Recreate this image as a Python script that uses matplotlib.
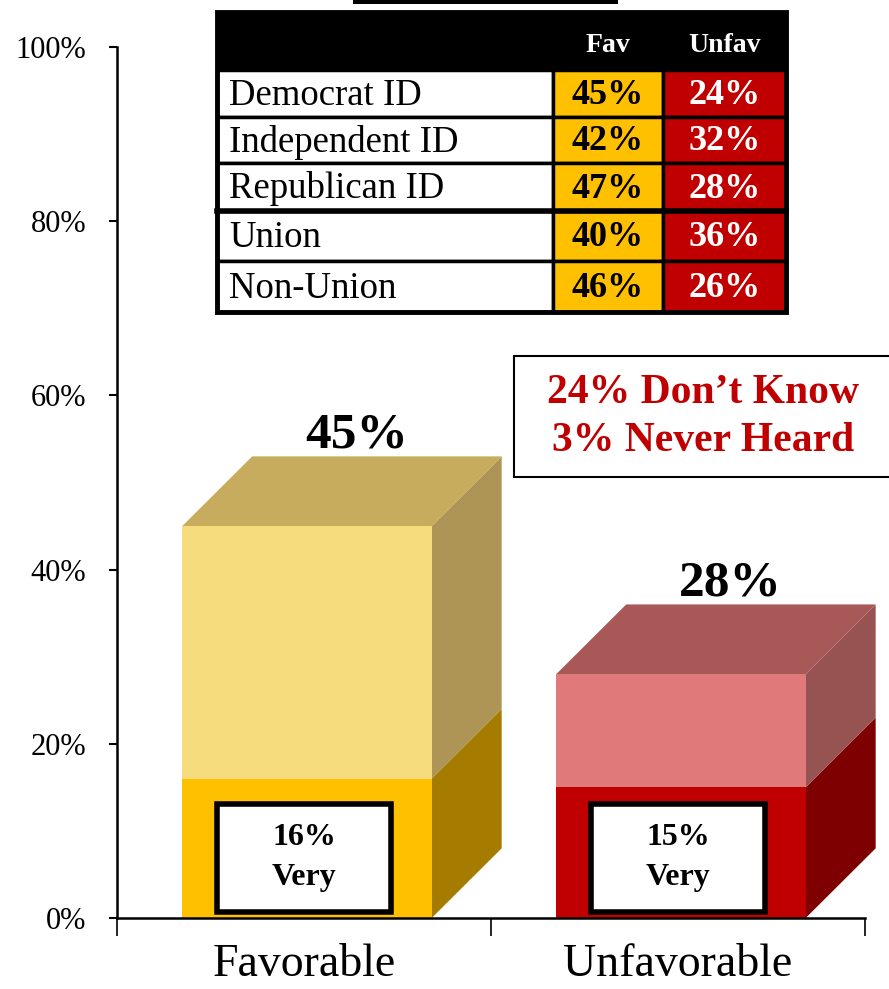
import matplotlib
matplotlib.use('Agg')
import matplotlib.pyplot as plt
from matplotlib.patches import Polygon, Rectangle
import numpy as np

plt.rcParams['font.family'] = ['Liberation Serif', 'DejaVu Serif']

# datos del grafico
categorias = ['Favorable', 'Unfavorable']
muy = [16, 15]          # parte "Very"
total = [45, 28]        # total por barra
etiquetas_muy = ['16%\nVery', '15%\nVery']

# tabla de arriba
filas_tabla = ['Democrat ID', 'Independent ID', 'Republican ID', 'Union', 'Non-Union']
fav_tabla = [45, 42, 47, 40, 46]
unfav_tabla = [24, 32, 28, 36, 26]

nota = ['24% Don\u2019t Know', '3% Never Heard']

# colores: frente oscuro, frente claro, tapa, lado oscuro, lado claro
col_fuerte = ['#FFC000', '#C00000']
col_claro = ['#F6DC7C', '#E07A7A']
col_tapa = ['#C8AC5E', '#A95858']
col_lado_fuerte = ['#A67C00', '#7E0000']
col_lado_claro = ['#AE9556', '#975252']

W, H = 889, 989
fig = plt.figure(figsize=(W / 100, H / 100), dpi=100)
ax = fig.add_axes([117 / W, 71 / H, 748 / W, 871 / H])

pos = np.arange(len(categorias)) + 0.5
ancho = 0.667
off = 0.008
dx, dy = 0.187, 8.0

for i in range(len(categorias)):
    x0 = pos[i] + off - ancho / 2
    x1 = x0 + ancho
    ax.bar(pos[i] + off, muy[i], width=ancho, color=col_fuerte[i], zorder=2)
    ax.bar(pos[i] + off, total[i] - muy[i], bottom=muy[i], width=ancho,
           color=col_claro[i], zorder=2)
    # cara lateral
    ax.add_patch(Polygon([(x1, 0), (x1 + dx, dy), (x1 + dx, muy[i] + dy), (x1, muy[i])],
                         closed=True, fc=col_lado_fuerte[i], ec='none', zorder=1, clip_on=False))
    ax.add_patch(Polygon([(x1, muy[i]), (x1 + dx, muy[i] + dy), (x1 + dx, total[i] + dy),
                          (x1, total[i])], closed=True, fc=col_lado_claro[i], ec='none',
                         zorder=1, clip_on=False))
    # tapa
    ax.add_patch(Polygon([(x0, total[i]), (x0 + dx, total[i] + dy), (x1 + dx, total[i] + dy),
                          (x1, total[i])], closed=True, fc=col_tapa[i], ec='none',
                         zorder=1, clip_on=False))
    # valor total
    ax.text(pos[i] + 0.14, total[i] + 9, f'{total[i]}%', ha='center', va='baseline',
            fontsize=37, fontweight='bold', zorder=5)
    # caja "Very"
    ax.add_patch(Rectangle((pos[i] - 0.2315, 0.7), 0.463, 12.4, fc='white', ec='black',
                           lw=4, zorder=4))
    ax.text(pos[i], 7.0, etiquetas_muy[i], ha='center', va='center', fontsize=23,
            fontweight='bold', linespacing=1.5, zorder=5)

ax.set_xlim(0, 2)
ax.set_ylim(0, 100)
ax.set_yticks(np.arange(0, 101, 20))
ax.set_yticklabels([f'{v}%' for v in range(0, 101, 20)], fontsize=22)
ax.set_xticks(pos)
ax.set_xticklabels(categorias, fontsize=33)
ax.set_xticks([0, 1, 2], minor=True)
ax.tick_params(axis='x', which='major', length=0, pad=18)
ax.tick_params(axis='x', which='minor', length=13, width=1.2, direction='out')
ax.tick_params(axis='y', length=6, width=1.5, pad=16)
for s in ['top', 'right']:
    ax.spines[s].set_visible(False)
ax.spines['left'].set_linewidth(1.8)
ax.spines['bottom'].set_linewidth(1.8)

# capa encima en pixeles para tabla y nota
ov = fig.add_axes([0, 0, 1, 1], zorder=10)
ov.set_xlim(0, W)
ov.set_ylim(H, 0)
ov.axis('off')
ov.patch.set_alpha(0)

ov.add_patch(Rectangle((353, -5), 265, 9, fc='black', ec='none'))

tx0, tx1, tx2, tx3 = 217, 553, 663, 786
ytop, yhead = 12, 70
bordes = [70, 117, 163, 211, 261, 312]
ov.add_patch(Rectangle((tx0, ytop), tx3 - tx0, yhead - ytop, fc='black', ec='black', lw=2))
ov.text((tx1 + tx2) / 2, 46, 'Fav', ha='center', va='center', color='white',
        fontsize=20, fontweight='bold')
ov.text((tx2 + tx3) / 2, 46, 'Unfav', ha='center', va='center', color='white',
        fontsize=20, fontweight='bold')
for j, nom in enumerate(filas_tabla):
    ya, yb = bordes[j], bordes[j + 1]
    ov.add_patch(Rectangle((tx0, ya), tx1 - tx0, yb - ya, fc='white', ec='black', lw=2.5))
    ov.add_patch(Rectangle((tx1, ya), tx2 - tx1, yb - ya, fc='#FFC000', ec='black', lw=2.5))
    ov.add_patch(Rectangle((tx2, ya), tx3 - tx2, yb - ya, fc='#C00000', ec='black', lw=2.5))
    yc = (ya + yb) / 2 + 2
    ov.text(tx0 + 12, yc, nom, ha='left', va='center', fontsize=26.5)
    ov.text((tx1 + tx2) / 2, yc, f'{fav_tabla[j]}%', ha='center', va='center',
            fontsize=26, fontweight='bold')
    ov.text((tx2 + tx3) / 2, yc, f'{unfav_tabla[j]}%', ha='center', va='center',
            fontsize=26, fontweight='bold', color='white')
# linea gruesa entre Republican y Union
ov.plot([tx0, tx3], [211, 211], color='black', lw=4)
ov.add_patch(Rectangle((tx0, ytop), tx3 - tx0, bordes[-1] - ytop, fc='none', ec='black', lw=3.5))

# caja de nota
ov.add_patch(Rectangle((514, 356), 400, 121, fc='white', ec='black', lw=1.5, clip_on=False))
ov.text(703, 393, nota[0], ha='center', va='center', fontsize=30, fontweight='bold',
        color='#C00000')
ov.text(703, 441, nota[1], ha='center', va='center', fontsize=30, fontweight='bold',
        color='#C00000')

fig.savefig('out.png', dpi=100)
